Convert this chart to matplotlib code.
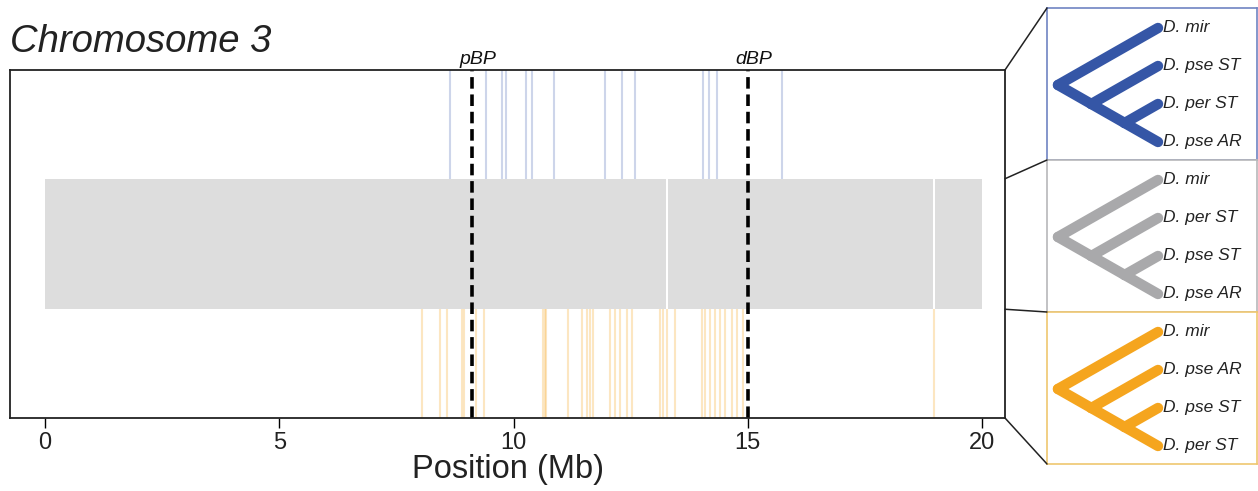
import matplotlib.pyplot as plt
from matplotlib.patches import ConnectionPatch
import matplotlib.transforms as mtransforms

plt.rcParams['font.family'] = ['Liberation Sans', 'DejaVu Sans']

# data (Mb positions)
blue_pos = [8.64, 9.41, 9.75, 9.84, 10.27, 10.39, 10.86, 11.95, 12.32, 12.59,
            14.04, 14.17, 14.34, 15.73]
orange_pos = [8.04, 8.42, 8.57, 8.89, 8.94, 9.20, 9.36, 10.63, 10.66, 10.69,
              11.17, 11.46, 11.56, 11.63, 11.70, 12.06, 12.17, 12.27, 12.42,
              12.52, 13.13, 13.20, 13.27, 13.45, 14.02, 14.09, 14.19, 14.30,
              14.41, 14.51, 14.66, 14.76, 14.90, 18.98]
gray_gaps = [13.27, 18.98]
chrom_len = 20.0
breakpoints = [9.11, 15.0]
bp_labels = ['pBP', 'dBP']
xticks = [0, 5, 10, 15, 20]

# tree tip orders (same ladder topology: (t0,(t1,(t2,t3))))
tree_tips = [
    ['D. mir', 'D. pse ST', 'D. per ST', 'D. pse AR'],
    ['D. mir', 'D. per ST', 'D. pse ST', 'D. pse AR'],
    ['D. mir', 'D. pse AR', 'D. pse ST', 'D. per ST'],
]
tree_colors = ['#3556a6', '#a9a9ab', '#f5a51e']
box_colors = ['#6f84c2', '#b8b8ba', '#efc770']

# band layout
orange_band = (0.0, 1.0)
gray_band = (1.0, 2.2)
blue_band = (2.2, 3.2)

fig = plt.figure(figsize=(12.58, 4.91), dpi=100)
W, H = 1258, 491
ax = fig.add_axes([10 / W, 1 - 418 / H, 995 / W, 348 / H])

# gray band, broken where windows are missing
edges = [0.0] + sorted(gray_gaps) + [chrom_len]
segs = []
for i in range(len(edges) - 1):
    a = edges[i] + (0.02 if i > 0 else 0)
    b = edges[i + 1] - (0.02 if i < len(edges) - 2 else 0)
    segs.append((a, b - a))
ax.broken_barh(segs, (gray_band[0], gray_band[1] - gray_band[0]),
               facecolor='#dddddd', edgecolor='none')

ax.vlines(blue_pos, blue_band[0], blue_band[1], color='#3a5aad', alpha=0.25, lw=1.5)
ax.vlines(orange_pos, orange_band[0], orange_band[1], color='#f5a623', alpha=0.28, lw=1.5)

for x, lab in zip(breakpoints, bp_labels):
    ax.axvline(x, color='black', lw=2.6, ls=(0, (3.2, 1.6)))
    ax.text(x + 0.12, 1.006, lab, transform=mtransforms.blended_transform_factory(ax.transData, ax.transAxes),
            ha='center', va='bottom', style='italic', fontsize=14, color='#111111')

ax.set_xlim(-0.75, 20.49)
ax.set_ylim(orange_band[0], blue_band[1])
ax.set_yticks([])
ax.set_xticks(xticks)
ax.tick_params(axis='x', direction='out', length=7, width=1, labelsize=17, pad=3,
               labelcolor='#222222')
for s in ax.spines.values():
    s.set_linewidth(1.3)
    s.set_color('#222222')
ax.set_xlabel('Position (Mb)', fontsize=23.5, labelpad=0, color='#222222')

fig.text(10 / W, 1 - 52 / H, 'Chromosome 3', style='italic', fontsize=27.5,
         va='baseline', ha='left', color='#222222')


def layout(n):
    # slanted cladogram for a ladder tree, tips at x=n-1, y=n-1..0
    tips = [(n - 1, n - 1 - i) for i in range(n)]
    segs = []
    nodes = []
    for k in range(n - 1):
        span = n - 1 - k
        nodes.append((k + span / 2.0, span / 2.0))
    for k, (nx, ny) in enumerate(nodes):
        segs.append(((nx, ny), tips[k]))
        child = nodes[k + 1] if k + 1 < len(nodes) else tips[-1]
        segs.append(((nx, ny), child))
    return tips, segs


box_tops = [8, 160, 312]
box_axes = []
for tips_lab, col, bcol, top in zip(tree_tips, tree_colors, box_colors, box_tops):
    bx = fig.add_axes([1047 / W, 1 - (top + 152) / H, 210 / W, 152 / H])
    tips, segs = layout(len(tips_lab))
    for (p, q) in segs:
        bx.plot([p[0], q[0]], [p[1], q[1]], color=col, lw=7.5, solid_capstyle='round')
    for (tx, ty), lab in zip(tips, tips_lab):
        bx.text(tx + 0.07, ty, lab, style='italic', fontsize=12.5, va='center', ha='left',
                color='#222222')
    bx.set_xlim(1.335, 4.485)
    bx.set_ylim(-0.474, 3.526)
    bx.set_xticks([])
    bx.set_yticks([])
    for s in bx.spines.values():
        s.set_color(bcol)
        s.set_linewidth(1.2)
    box_axes.append(bx)

xr = ax.get_xlim()[1]
conns = [
    ((xr, blue_band[1]), box_axes[0], (0, 1)),
    ((xr, gray_band[1]), box_axes[1], (0, 1)),
    ((xr, gray_band[0]), box_axes[2], (0, 1)),
    ((xr, orange_band[0]), box_axes[2], (0, 0)),
]
for xyA, bx, xyB in conns:
    con = ConnectionPatch(xyA=xyA, coordsA=ax.transData, xyB=xyB, coordsB=bx.transAxes,
                          color='#222222', lw=1.1)
    fig.add_artist(con)

fig.savefig('out.png', dpi=100)
